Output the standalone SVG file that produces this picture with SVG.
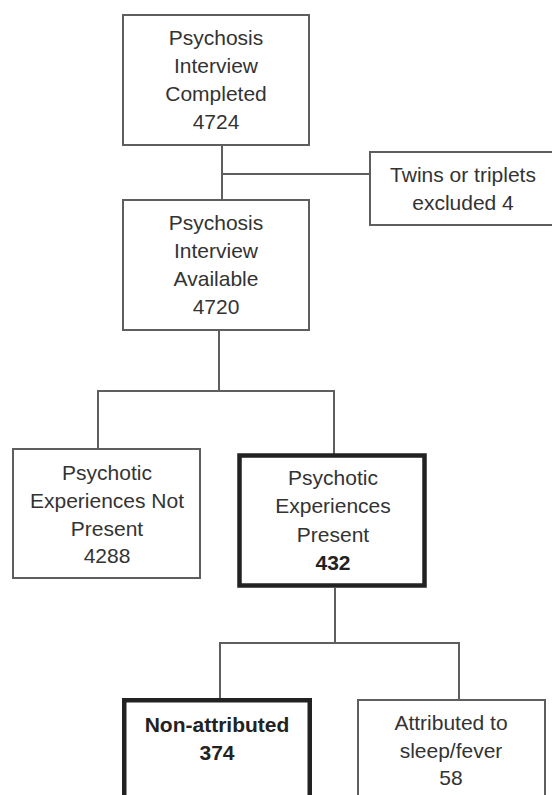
<svg xmlns="http://www.w3.org/2000/svg" width="552" height="795" viewBox="0 0 552 795">
<style>
.box{fill:#fff;stroke:#5e5e5e;stroke-width:2}
.thick{fill:#fff;stroke:#222;stroke-width:4.5}
.t{font-family:"Liberation Sans",Arial,sans-serif;font-size:21px;fill:#333;text-anchor:middle}
.b{font-weight:bold;fill:#222}
#connectors line{stroke:#5e5e5e;stroke-width:2}
</style>
<rect width="552" height="795" fill="#fff"/>
<g id="connectors">
<line x1="222" y1="145" x2="222" y2="200"/>
<line x1="222" y1="174" x2="370" y2="174"/>
<line x1="219" y1="330" x2="219" y2="391"/>
<line x1="97" y1="391" x2="335" y2="391"/>
<line x1="98" y1="391" x2="98" y2="449"/>
<line x1="334" y1="391" x2="334" y2="455"/>
<line x1="335" y1="588" x2="335" y2="643"/>
<line x1="219" y1="643" x2="460" y2="643"/>
<line x1="220" y1="643" x2="220" y2="700"/>
<line x1="459" y1="643" x2="459" y2="700"/>
</g>
<g id="completed">
<rect class="box" x="123" y="15" width="186" height="130"/>
<text class="t" x="216" y="45">Psychosis</text>
<text class="t" x="216" y="73">Interview</text>
<text class="t" x="216" y="101">Completed</text>
<text class="t" x="216" y="129">4724</text>
</g>
<g id="excluded">
<rect class="box" x="370" y="152" width="200" height="73"/>
<text class="t" x="463" y="182">Twins or triplets</text>
<text class="t" x="463" y="210">excluded 4</text>
</g>
<g id="available">
<rect class="box" x="123" y="200" width="186" height="130"/>
<text class="t" x="216" y="230">Psychosis</text>
<text class="t" x="216" y="258">Interview</text>
<text class="t" x="216" y="286">Available</text>
<text class="t" x="216" y="314">4720</text>
</g>
<g id="not-present">
<rect class="box" x="13" y="449" width="187" height="129"/>
<text class="t" x="107" y="480">Psychotic</text>
<text class="t" x="107" y="508">Experiences Not</text>
<text class="t" x="107" y="536">Present</text>
<text class="t" x="107" y="563">4288</text>
</g>
<g id="present">
<rect class="thick" x="239.5" y="455.5" width="185" height="130"/>
<text class="t" x="333" y="485">Psychotic</text>
<text class="t" x="333" y="513">Experiences</text>
<text class="t" x="333" y="542">Present</text>
<text class="t b" x="333" y="570">432</text>
</g>
<g id="non-attributed">
<rect class="thick" x="124.25" y="700.25" width="185.5" height="120"/>
<text class="t b" x="217" y="732">Non-attributed</text>
<text class="t b" x="217" y="760">374</text>
</g>
<g id="attributed">
<rect class="box" x="358" y="700" width="187" height="120"/>
<text class="t" x="451" y="730">Attributed to</text>
<text class="t" x="451" y="758">sleep/fever</text>
<text class="t" x="451" y="785">58</text>
</g>
</svg>
